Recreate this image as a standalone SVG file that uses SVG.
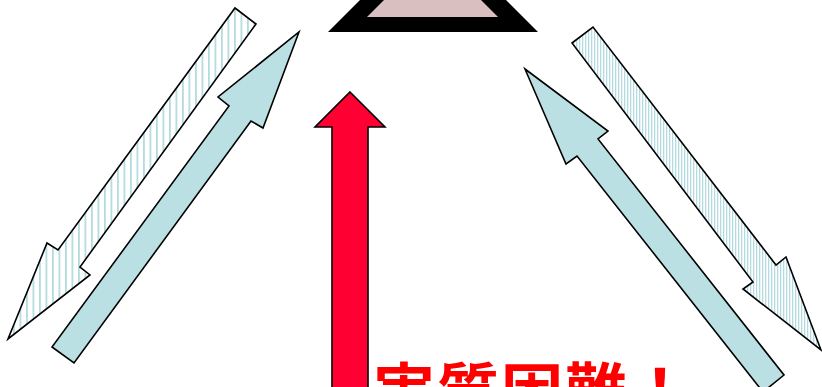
<svg xmlns="http://www.w3.org/2000/svg" width="822" height="387" viewBox="0 0 822 387">
<style>
.edge{stroke:#000;stroke-width:1.6;stroke-linejoin:miter}
.solid{fill:#BBE0E3}
.red{fill:#FF0033}
.label{font-family:"Noto Sans CJK JP","Noto Sans CJK SC",sans-serif;font-weight:bold;font-size:62px;fill:#FF0000;letter-spacing:2px}
</style>
<defs>
<pattern id="hatchWide" patternUnits="userSpaceOnUse" width="6.5" height="10">
<rect width="6.5" height="10" fill="#fff"/>
<rect x="0" width="1.8" height="10" fill="#B4DCE0"/>
</pattern>
<pattern id="hatchFine" patternUnits="userSpaceOnUse" width="3" height="10">
<rect width="3" height="10" fill="#fff"/>
<rect x="0" width="1.3" height="10" fill="#B4DCE0"/>
</pattern>
</defs>
<g id="triangle">
<polygon points="328,32 538,32 433,-73" fill="#000"/>
<polygon points="367,17 498,17 432.5,-48.5" fill="#D9BFBF"/>
</g>
<g id="connectors">
<polygon id="left-down" class="edge" fill="url(#hatchWide)" points="235,8 256,24 80,267 90,275 8,339 47,243 58,250"/>
<polygon id="left-up" class="edge solid" points="299,32 263,128 251,121 74,363 52,347 229,106 218,97"/>
<polygon id="center-up" class="edge red" points="350,92 385,127 368,127 368,395 332,395 332,127 315,127"/>
<polygon id="right-down" class="edge" fill="url(#hatchFine)" points="572,43 593,27 776,265 786,257 821,350 743,289 753,282"/>
<polygon id="right-up" class="edge solid" points="525,69 608,131 598,139 784,375 763,392 577,156 566,164"/>
</g>
<g id="label">
<text class="label" x="373" y="415">実質困難！</text>
</g>
</svg>
